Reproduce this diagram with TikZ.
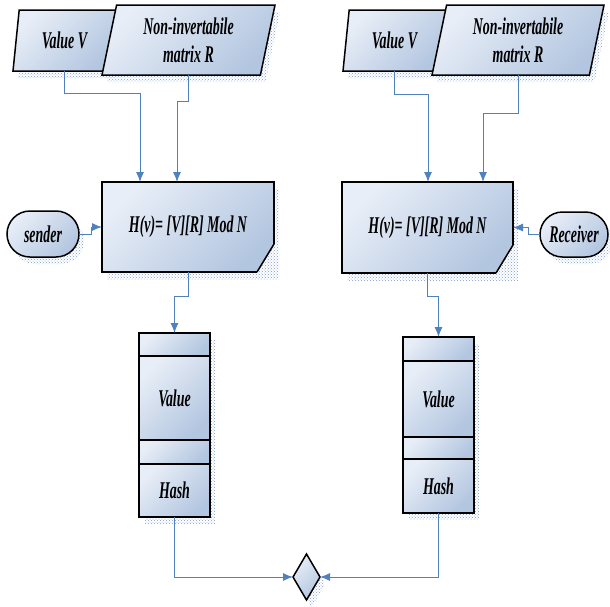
\documentclass[tikz,border=0pt]{standalone}
\usepackage{fontspec}
\setmainfont{Liberation Serif}[FakeStretch=0.58]
\usetikzlibrary{shapes.geometric, shapes.misc, shadows, patterns, calc, positioning, arrows.meta}

\definecolor{boxlight}{HTML}{E8EEF7}
\definecolor{boxdark}{HTML}{B3C6E0}
\definecolor{linkblue}{HTML}{4F81BD}
\definecolor{shadowblue}{HTML}{7C9CD2}

\begin{document}
\begin{tikzpicture}[x=1pt, y=-1pt, >={Latex[length=10pt,width=8pt]},
    every node/.style={font=\fontsize{24}{28}\selectfont\bfseries\itshape, align=center, inner sep=0pt, outer sep=0pt},
    shadowed/.style={general shadow={shadow xshift=5pt, shadow yshift=-7pt, pattern=crosshatch dots, pattern color=shadowblue}},
    blob/.style={draw=black, line width=1.5pt, top color=boxlight, bottom color=boxdark, shading angle=45, shadowed},
    datain/.style={blob, trapezium, trapezium left angle=#1, trapezium right angle=180-#1, trapezium stretches body},
    process/.style={blob, rectangle, minimum width=172, minimum height=90},
    actor/.style={blob, rounded rectangle, minimum height=46},
    field/.style={draw=black, line width=1.5pt, top color=boxlight, bottom color=boxdark, shading angle=45, minimum width=71},
    fold/.style={fill=white, postaction={pattern=crosshatch dots, pattern color=shadowblue}},
    link/.style={draw=linkblue, line width=1pt}]
  \useasboundingbox (0,0) rectangle (610,606);

  % sender side
  \node[datain=70, minimum width=103, minimum height=61] (vl) at (64.5,40.5) {Value V};
  \node[datain=72, minimum width=173, minimum height=70] (ml) at (188.5,40) {Non-invertabile\\matrix R};
  \node[process] (hl) at (188,227) {\raisebox{-4pt}{H(v)= [V][R] Mod N}};
  \node[actor, minimum width=72] (sl) at (43,234) {sender};
  \path[fold] ($(hl.south east)+(0.75,-28)$) -- ($(hl.south east)+(0.75,0.75)$) -- ($(hl.south east)+(-17,0.75)$) -- cycle;
  \draw[line width=1.5pt] ($(hl.south east)+(0,-28)$) -- ($(hl.south east)+(-17,0)$);

  \fill[pattern=crosshatch dots, pattern color=shadowblue] (145,340) rectangle (215,523);
  \node[field, minimum height=23] (topl) at (174.5,344.5) {};
  \node[field, minimum height=84, below=0pt of topl] (valuel) {Value};
  \node[field, minimum height=24, below=0pt of valuel] (midl) {};
  \node[field, minimum height=53, below=0pt of midl] (hashl) {Hash};

  % receiver side
  \node[datain=70, minimum width=103, minimum height=61] (vr) at (394.5,40.5) {Value V};
  \node[datain=72, minimum width=172, minimum height=70] (mr) at (518,40) {Non-invertabile\\matrix R};
  \node[process, minimum width=171, minimum height=91] (hr) at (427.5,227.5) {\raisebox{-2pt}{H(v)= [V][R] Mod N}};
  \node[actor, minimum width=68, minimum height=45] (rr) at (574,234.5) {Receiver};
  \path[fold] ($(hr.south east)+(0.75,-28)$) -- ($(hr.south east)+(0.75,0.75)$) -- ($(hr.south east)+(-17,0.75)$) -- cycle;
  \draw[line width=1.5pt] ($(hr.south east)+(0,-28)$) -- ($(hr.south east)+(-17,0)$);

  \fill[pattern=crosshatch dots, pattern color=shadowblue] (409,344) rectangle (479,519);
  \node[field, minimum height=24] (topr) at (438.5,349) {};
  \node[field, minimum height=76, below=0pt of topr] (valuer) {Value};
  \node[field, minimum height=22, below=0pt of valuer] (midr) {};
  \node[field, minimum height=54, below=0pt of midr] (hashr) {Hash};

  % comparison
  \node[blob, diamond, aspect=0.59, minimum width=27, minimum height=46] (dm) at (306.5,577) {};

  % connectors
  \draw[link, ->] (vl.south) -- ++(0,22) -| ($(hl.north west)+(38,0)$);
  \draw[link, ->] (ml.south) -- ++(0,26) -| ($(hl.north west)+(75,0)$);
  \draw[link, ->] (sl.east) -- ++(12,0) |- (hl.west);
  \draw[link, ->] (hl.south) -- ++(0,24) -| (topl.north);
  \draw[link, ->] (hashl.south) |- (dm.west);

  \draw[link, ->] (vr.south) -- ++(0,23) -| ($(hr.north west)+(86,0)$);
  \draw[link, ->] (mr.south) -- ++(0,38) -| ($(hr.north west)+(141,0)$);
  \draw[link, ->] (rr.west) -- ++(-12,0) |- (hr.east);
  \draw[link, ->] (hr.south) -- ++(0,23) -| (topr.north);
  \draw[link, ->] (hashr.south) |- (dm.east);
\end{tikzpicture}
\end{document}
